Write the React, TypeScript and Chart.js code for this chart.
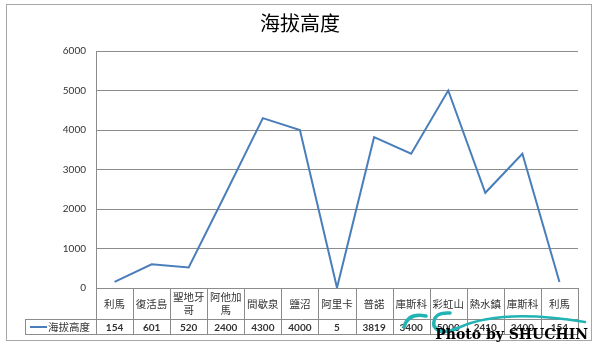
import React, { useEffect, useRef } from "react";
import { Chart, registerables } from "chart.js";

Chart.register(...registerables);

const chartTitle = "海拔高度";
const seriesName = "海拔高度";
const categories: string[][] = [
  ["利馬"], ["復活島"], ["聖地牙", "哥"], ["阿他加", "馬"], ["間歇泉"], ["鹽沼"], ["阿里卡"],
  ["普諾"], ["庫斯科"], ["彩虹山"], ["熱水鎮"], ["庫斯科"], ["利馬"],
];
const altitudes: number[] = [154, 601, 520, 2400, 4300, 4000, 5, 3819, 3400, 5000, 2410, 3400, 154];
const yTicks: number[] = [0, 1000, 2000, 3000, 4000, 5000, 6000];
const watermark = "Photo by SHUCHIN";

const CJK = '"Noto Sans CJK TC", "Noto Sans CJK SC", sans-serif';
const NUM = 'Lato, "Liberation Sans", sans-serif';
const LINE = "#4a7ebb";
const GRID = "#8c8c8c";

const tablePlugin = {
  id: "tablePlugin",
  afterDraw(chart: any) {
    const ctx = chart.ctx as CanvasRenderingContext2D;
    const area = chart.chartArea;
    const n = categories.length;
    const w = (area.right - area.left) / n;
    const top = area.bottom;
    const mid = top + 31;
    const bot = top + 46;
    const legendLeft = 25;
    ctx.save();
    ctx.strokeStyle = "#a6a6a6";
    ctx.lineWidth = 1;
    ctx.strokeRect(6.5, 4.5, 585, 336);
    ctx.fillStyle = "#000";
    ctx.font = `20px ${CJK}`;
    ctx.textAlign = "center";
    ctx.textBaseline = "middle";
    ctx.fillText(chartTitle, 300, 23);
    ctx.strokeStyle = GRID;
    ctx.beginPath();
    for (let i = 0; i <= n; i++) {
      const x = Math.round(area.left + i * w) + 0.5;
      ctx.moveTo(x, top);
      ctx.lineTo(x, bot);
    }
    ctx.moveTo(legendLeft + 0.5, mid);
    ctx.lineTo(legendLeft + 0.5, bot);
    ctx.moveTo(legendLeft, mid + 0.5);
    ctx.lineTo(area.right, mid + 0.5);
    ctx.moveTo(legendLeft, bot + 0.5);
    ctx.lineTo(area.right, bot + 0.5);
    ctx.stroke();
    ctx.fillStyle = "#333";
    ctx.font = `10.5px ${CJK}`;
    const xs = chart.scales.x;
    categories.forEach((lab, i) => {
      const cx = xs.getPixelForValue(i);
      if (lab.length === 1) {
        ctx.fillText(lab[0], cx, (top + mid) / 2 + 1);
      } else {
        ctx.fillText(lab[0], cx, top + 9);
        ctx.fillText(lab[1], cx, top + 22);
      }
    });
    ctx.font = `bold 10px ${NUM}`;
    altitudes.forEach((v, i) => {
      const cx = xs.getPixelForValue(i);
      ctx.fillText(String(v), cx, (mid + bot) / 2 + 1);
    });
    ctx.strokeStyle = LINE;
    ctx.lineWidth = 2;
    ctx.beginPath();
    ctx.moveTo(30, (mid + bot) / 2 + 0.5);
    ctx.lineTo(47, (mid + bot) / 2 + 0.5);
    ctx.stroke();
    ctx.fillStyle = "#333";
    ctx.font = `10.5px ${CJK}`;
    ctx.textAlign = "left";
    ctx.fillText(seriesName, 48, (mid + bot) / 2 + 1);
    // watermark swoosh
    ctx.strokeStyle = "#22b4b4";
    ctx.lineCap = "round";
    ctx.lineWidth = 3.5;
    ctx.beginPath();
    ctx.moveTo(404, 327);
    ctx.quadraticCurveTo(408, 312, 426, 316);
    ctx.stroke();
    ctx.beginPath();
    ctx.moveTo(450, 313);
    ctx.quadraticCurveTo(432, 312, 434, 326);
    ctx.quadraticCurveTo(440, 336, 458, 328);
    ctx.stroke();
    ctx.lineWidth = 2.5;
    ctx.beginPath();
    ctx.moveTo(458, 328);
    ctx.quadraticCurveTo(500, 308, 585, 322);
    ctx.stroke();
    ctx.fillStyle = "#000";
    ctx.font = 'bold 14px "DejaVu Serif", serif';
    ctx.textAlign = "right";
    ctx.textBaseline = "alphabetic";
    ctx.fillText(watermark, 588, 339);
    ctx.restore();
  },
};

export default function App() {
  const ref = useRef<HTMLCanvasElement>(null);
  useEffect(() => {
    document.body.style.margin = "0";
    const chart = new Chart(ref.current!, {
      type: "line",
      data: {
        labels: categories.map((c) => c.join("")),
        datasets: [
          {
            label: seriesName,
            data: altitudes,
            borderColor: LINE,
            borderWidth: 2,
            pointRadius: 0,
            tension: 0,
            fill: false,
          },
        ],
      },
      options: {
        responsive: false,
        animation: false,
        layout: { padding: { left: 0, top: 51, right: 22, bottom: 65 } },
        plugins: { legend: { display: false }, title: { display: false }, tooltip: { enabled: false } },
        scales: {
          x: { display: false, offset: true },
          y: {
            min: 0,
            max: 6000,
            afterFit: (s: any) => { s.width = 96; },
            afterBuildTicks: (s: any) => { s.ticks = yTicks.map((v) => ({ value: v })); },
            grid: { color: GRID, drawTicks: false },
            border: { display: true, color: GRID },
            ticks: {
              color: "#333",
              padding: 10,
              font: { family: NUM, size: 10 },
              callback: (v: any) => String(v),
            },
          },
        },
      },
      plugins: [tablePlugin],
    });
    return () => chart.destroy();
  }, []);
  return <canvas ref={ref} width={600} height={353} style={{ display: "block" }} />;
}
